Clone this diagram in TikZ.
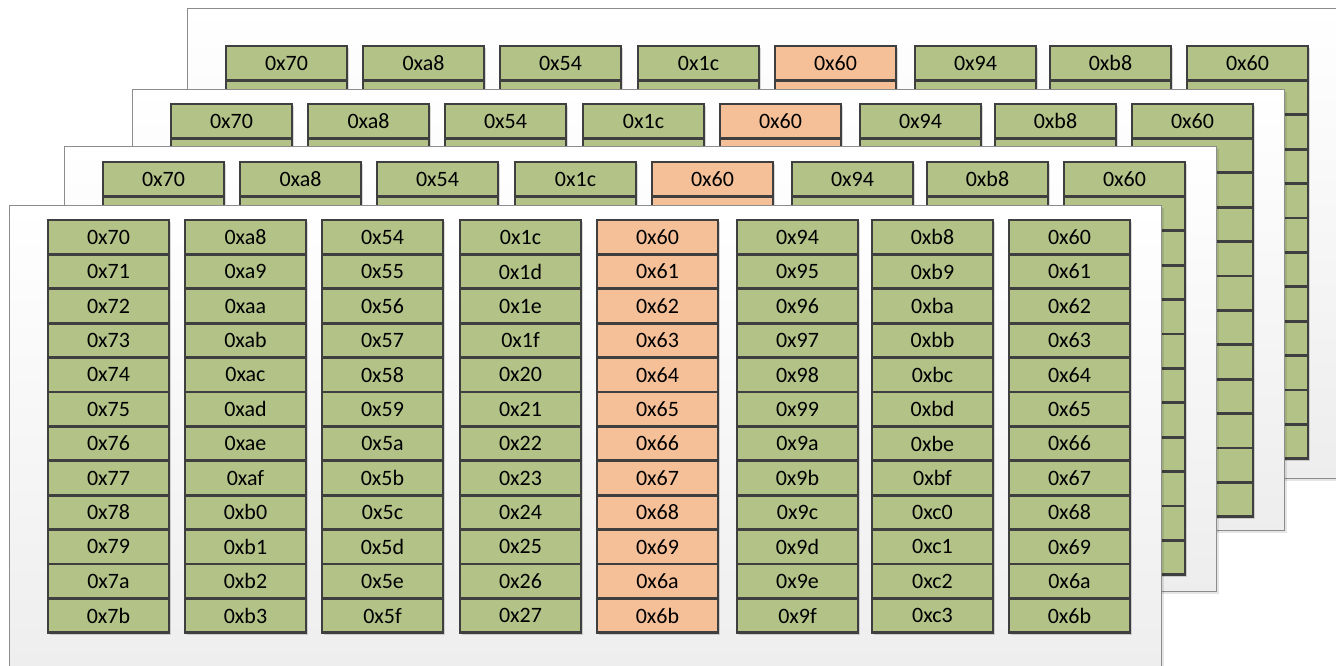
\documentclass[tikz,border=0pt]{standalone}
\usepackage{fontspec}
\setmainfont{Carlito}
\usetikzlibrary{shadows}

\definecolor{cellgreen}{HTML}{B3C287}
\definecolor{cellorange}{HTML}{F5BF97}
\definecolor{cellline}{HTML}{3F3F3F}

\begin{document}
\begin{tikzpicture}[x=0.02cm, y=-0.02cm,
	cell/.style={draw=cellline, line width=1.5pt, minimum width=2.42cm, minimum height=0.688cm, inner sep=0pt,
		font=\fontsize{12.5}{14}\selectfont,
		drop shadow={shadow xshift=1.3pt, shadow yshift=-1.3pt, fill=black, opacity=0.15}},
	panel/.style={draw=black!45, line width=0.5pt, top color=white, bottom color=black!7,
		drop shadow={shadow xshift=1.5pt, shadow yshift=-1.5pt, fill=black, opacity=0.1}}]
	\clip (0,0) rectangle (1336,666);
	% four pages, back one first
	\foreach \pnl/\dx/\dy/\pleft/\ptop/\pright/\pbot in {4/178/-174/187/8/1339/478, 3/123/-116/132/89/1284/530, 2/55/-58/64/146/1216/591, 1/0/0/9/205/1161/690} {
		\draw[panel] (\pleft,\ptop) rectangle (\pright,\pbot);
		\foreach \col/\cx/\cs/\cf in {1/48/112/cellgreen, 2/185/168/cellgreen, 3/322/84/cellgreen, 4/460/28/cellgreen, 5/597/96/cellorange, 6/737/148/cellgreen, 7/872/184/cellgreen, 8/1009/96/cellgreen} {
			\foreach \row in {0,...,11} {
				\pgfmathparse{hex(\cs+\row)}\edef\hx{\pgfmathresult}
				\def\txt{}
				\ifnum\row=0 \edef\txt{0x\hx}\fi
				\ifnum\pnl=1 \edef\txt{0x\hx}\fi
				\node[cell, fill=\cf] (p\pnl c\col r\row) at (\cx+\dx+60.5, \dy+237.2+34.4*\row) {\txt};
			}
		}
	}
\end{tikzpicture}
\end{document}
